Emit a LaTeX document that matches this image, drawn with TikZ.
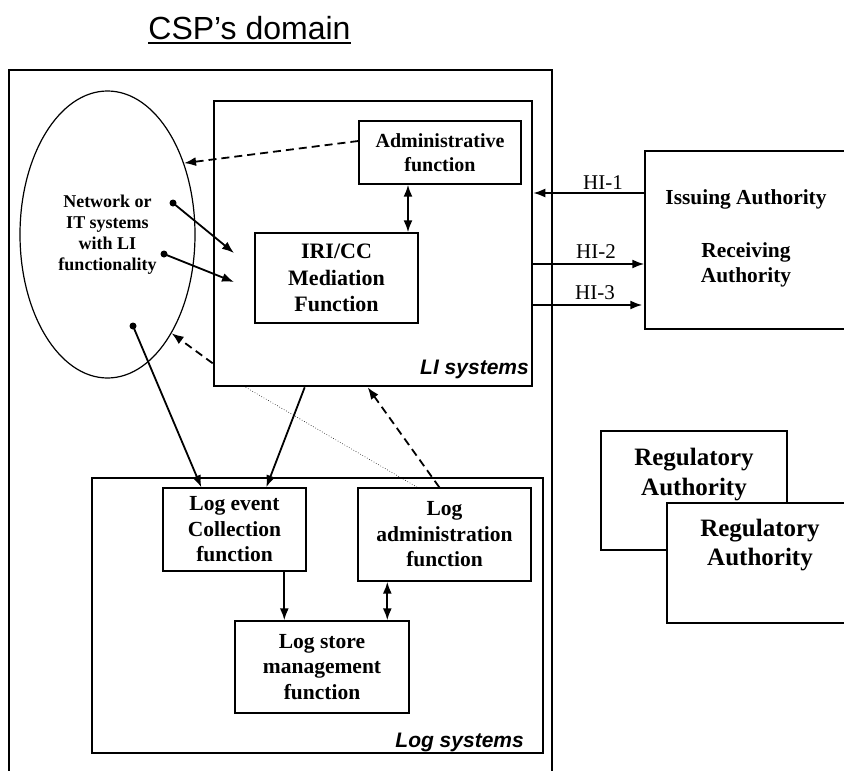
\documentclass[tikz,border=0pt]{standalone}
\usepackage{fontspec}
\setmainfont{Liberation Serif}
\setsansfont{Liberation Sans}
\usetikzlibrary{arrows.meta,shapes.geometric,calc}
\begin{document}
\begin{tikzpicture}[x=1pt,y=-1pt,
 box/.style={draw, line width=1.4pt, fill=white, inner sep=0pt, align=center},
 sysbox/.style={draw, line width=2.6pt, inner sep=0pt},
 bt/.style 2 args={font=\bfseries\fontsize{#1}{#2}\selectfont},
 arr/.style={line width=1.8pt, -{Latex[length=12pt,width=9pt]}},
 darr/.style={line width=1.8pt, {Latex[length=12pt,width=9pt]}-{Latex[length=12pt,width=9pt]}},
 dasharr/.style={arr, dash pattern=on 8pt off 5pt},
 dot/.style={circle, fill, inner sep=0pt, minimum size=7pt},
 lbl/.style={font=\sffamily\bfseries\itshape\fontsize{21}{25}\selectfont, inner sep=0pt},
 hi/.style={font=\fontsize{21}{25}\selectfont, inner sep=0pt},
 txt/.style={inner sep=0pt, align=center}
]
\useasboundingbox (0,0) rectangle (844,771);
\clip (0,0) rectangle (844,771);

% title
\node[font=\sffamily\fontsize{32}{37}\selectfont, inner sep=0pt, anchor=base] (title) at (249.5,39) {CSP’s domain};
\draw[line width=2.2pt] ($(title.base west)+(0,4)$) -- ($(title.base east)+(0,4)$);

% outer CSP box
\draw[line width=1.4pt] (9,800) -- (9,70) -- (552,70) -- (552,800);

% LI systems
\node[sysbox, minimum width=318pt, minimum height=285pt] (li) at (373,243.5) {};
\node[lbl, anchor=base east] (lil) at (529,374) {LI systems};
\node[box, bt={20}{24}, minimum width=162pt, minimum height=63pt] (adm) at (440,152.5) {Administrative\\function};
\node[box, bt={22}{26.5}, minimum width=163pt, minimum height=90pt] (iri) at (336.5,278) {IRI/CC\\Mediation\\Function};

% ellipse
\node[draw, ellipse, line width=1.2pt, inner sep=0pt, minimum width=175pt, minimum height=287pt, align=center,
      bt={18}{21}] (ell) at (107.5,234.5) {Network or\\IT systems\\with LI\\functionality};

% Log systems
\node[sysbox, minimum width=451pt, minimum height=275pt] (logs) at (317.5,615.5) {};
\node[lbl, anchor=base east] (logl) at (524,747) {Log systems};
\node[box, bt={21.5}{25.5}, minimum width=143pt, minimum height=83pt] (le) at (234.5,529.5) {Log event\\Collection\\function};
\node[box, bt={21.5}{25.5}, minimum width=173pt, minimum height=93pt] (la) at (444.5,534.5) {Log\\administration\\function};
\node[box, bt={21.5}{25.5}, minimum width=174pt, minimum height=92pt] (ls) at (322,667) {Log store\\management\\function};

% Issuing / Receiving authority
\node[box, minimum width=215pt, minimum height=178pt] (ia) at (752.5,240) {};
\node[txt, bt={21.4}{25}] (iat) at (746,199) {Issuing Authority};
\node[txt, bt={21.4}{25}] (rat) at (746,264.5) {Receiving\\Authority};

% Regulatory authorities
\node[box, minimum width=186pt, minimum height=119pt] (r1) at (694,490.5) {};
\node[txt, bt={25}{30}] (r1t) at (694,475) {Regulatory\\Authority};
\node[box, minimum width=186pt, minimum height=120pt] (r2) at (760,563) {};
\node[txt, bt={25}{29}] (r2t) at (760,545) {Regulatory\\Authority};

% dots and free ends
\node[dot] (d1) at (173,203) {};
\node[dot] (d2) at (164,254) {};
\node[dot] (d3) at (133,326) {};
\coordinate (t1) at (234,253);
\coordinate (t2) at (234,282);

\draw[arr] (d1.center) -- (t1);
\draw[arr] (d2.center) -- (t2);
\draw[arr] (d3.center) -- ([xshift=39pt]le.north west);

% admin <-> IRI
\path ([xshift=-32pt]adm.south) coordinate (a1);
\draw[darr] (a1) -- (a1 |- iri.north);

% dashed to ellipse
\draw[dasharr] ([yshift=11.5pt]adm.west) -- (ell.43);
\draw[dasharr] ([yshift=24pt]li.south west) -- (ell.-57);

% LI -> Log event
\draw[arr] ([xshift=92pt]li.south west) -- ([xshift=104pt]le.north west);
% dotted LI -> Log admin
\draw[line width=0.6pt, dotted] ([xshift=33pt]li.south west) -- ([xshift=60pt]la.north west);
% dashed Log admin -> LI
\draw[dasharr] ([xshift=82pt]la.north west) -- ([xshift=155pt]li.south west);

% Log event -> Log store
\path ([xshift=122pt]le.south west) coordinate (e1);
\draw[arr] (e1) -- (e1 |- ls.north);
% Log admin <-> Log store
\path ([xshift=30pt]la.south west) coordinate (e2);
\draw[darr] (e2) -- (e2 |- ls.north);

% HI interfaces
\path ([yshift=47pt]ia.west) coordinate (h1);
\path ([yshift=-24pt]ia.west) coordinate (h2);
\path ([yshift=-65pt,xshift=-2pt]ia.west) coordinate (h3);
\draw[arr] (h1) -- (h1 -| li.east);
\draw[arr] (h2 -| li.east) -- (h2);
\draw[arr] (h3 -| li.east) -- (h3);
\node[hi] (hi1) at (603,183) {HI-1};
\node[hi] (hi2) at (596,252) {HI-2};
\node[hi] (hi3) at (595,293) {HI-3};
\end{tikzpicture}
\end{document}
